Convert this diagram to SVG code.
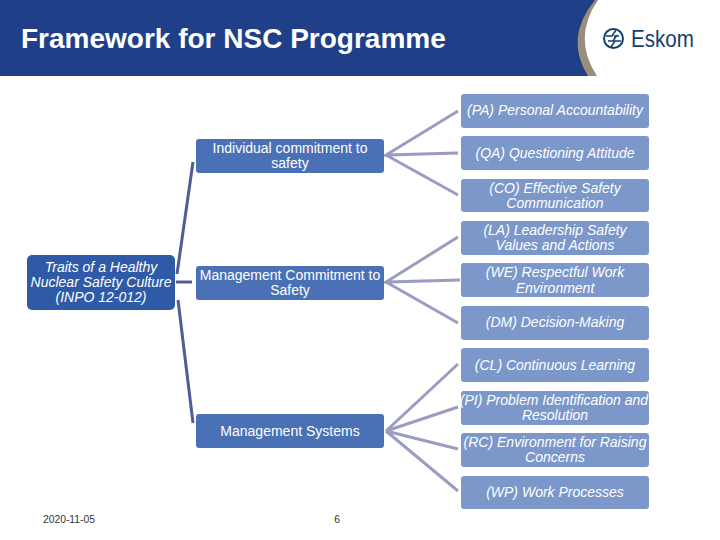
<svg xmlns="http://www.w3.org/2000/svg" width="720" height="540" viewBox="0 0 720 540">
<style>
text{font-family:"Liberation Sans",Arial,sans-serif;text-anchor:middle}
.t{font-size:14px;fill:#fff}
.i{font-style:italic}
.r{fill:#7C97CA}
.m{fill:#4A71B6}
.c1{stroke:#9A9CC0;stroke-width:3;fill:none}
.c2{stroke:#505C96;stroke-width:3;fill:none}
</style>
<rect width="720" height="540" fill="#fff"/>
<g id="header">
<rect width="600" height="76" fill="#1F3F88"/>
<path d="M595 0Q564 38 588 76H720V0Z" fill="#9A8D7E"/>
<path d="M598 0Q572 38 597 76H720V0Z" fill="#fff"/>
<text x="21" y="48" font-size="28" font-weight="700" fill="#fff" style="text-anchor:start">Framework for NSC Programme</text>
</g>
<g id="logo" fill="none" stroke="#14406E">
<circle cx="613.500" cy="38.500" r="9.500" stroke-width="2"/>
<path d="M606 36H612L616 30M621 41H615L611 47M608 41H613L617 35M619 36H614" stroke-width="1.600"/>
<text x="662.500" y="47" font-size="24.500" fill="#14406E" stroke="none" textLength="63" lengthAdjust="spacingAndGlyphs">Eskom</text>
</g>
<g id="connectors">
<path class="c2" d="M176 282H192"/>
<path class="c2" d="M177 274L193 162"/>
<path class="c2" d="M178 300L193 423"/>
<path class="c1" d="M458 111L386 155L458 153M386 155L458 195"/>
<path class="c1" d="M458 237L386 282L460 280M386 282L458 323"/>
<path class="c1" d="M458 364L386 431L458 407M386 431L458 449M386 431L458 491"/>
</g>
<g id="n-root"><rect x="27" y="255" width="148" height="55" rx="5" fill="#2E5AA8"/><text class="t i" x="101" y="272">Traits of a Healthy</text><text class="t i" x="101" y="287">Nuclear Safety Culture</text><text class="t i" x="101" y="302">(INPO 12-012)</text></g>
<g id="n-individual"><rect class="m" x="196" y="139" width="188" height="34" rx="3"/><text class="t" x="290" y="153">Individual commitment to</text><text class="t" x="290" y="168">safety</text></g>
<g id="n-management"><rect class="m" x="196" y="266" width="188" height="34" rx="3"/><text class="t" x="290" y="280">Management Commitment to</text><text class="t" x="290" y="295">Safety</text></g>
<g id="n-systems"><rect class="m" x="196" y="414" width="188" height="34" rx="3"/><text class="t" x="290" y="436">Management Systems</text></g>
<g id="n-pa"><rect class="r" x="461" y="94" width="188" height="34" rx="3"/><text class="t i" x="555" y="115">(PA) Personal Accountability</text></g>
<g id="n-qa"><rect class="r" x="461" y="136" width="188" height="34" rx="3"/><text class="t i" x="555" y="158">(QA) Questioning Attitude</text></g>
<g id="n-co"><rect class="r" x="461" y="179" width="188" height="33" rx="3"/><text class="t i" x="555" y="193">(CO) Effective Safety</text><text class="t i" x="555" y="208">Communication</text></g>
<g id="n-la"><rect class="r" x="461" y="221" width="188" height="34" rx="3"/><text class="t i" x="555" y="235">(LA) Leadership Safety</text><text class="t i" x="555" y="250">Values and Actions</text></g>
<g id="n-we"><rect class="r" x="461" y="263" width="188" height="34" rx="3"/><text class="t i" x="555" y="277">(WE) Respectful Work</text><text class="t i" x="555" y="293">Environment</text></g>
<g id="n-dm"><rect class="r" x="461" y="306" width="188" height="34" rx="3"/><text class="t i" x="555" y="327">(DM) Decision-Making</text></g>
<g id="n-cl"><rect class="r" x="461" y="348" width="188" height="34" rx="3"/><text class="t i" x="555" y="370">(CL) Continuous Learning</text></g>
<g id="n-pi"><rect class="r" x="461" y="391" width="188" height="34" rx="3"/><text class="t i" x="554" y="405">(PI) Problem Identification and</text><text class="t i" x="555" y="420">Resolution</text></g>
<g id="n-rc"><rect class="r" x="461" y="433" width="188" height="34" rx="3"/><text class="t i" x="555" y="447">(RC) Environment for Raising</text><text class="t i" x="555" y="462">Concerns</text></g>
<g id="n-wp"><rect class="r" x="461" y="476" width="188" height="33" rx="3"/><text class="t i" x="555" y="497">(WP) Work Processes</text></g>
<g id="footer"><text x="69" y="523" font-size="10.300" fill="#333">2020-11-05</text><text x="337" y="523" font-size="10.300" fill="#333">6</text></g>
</svg>
